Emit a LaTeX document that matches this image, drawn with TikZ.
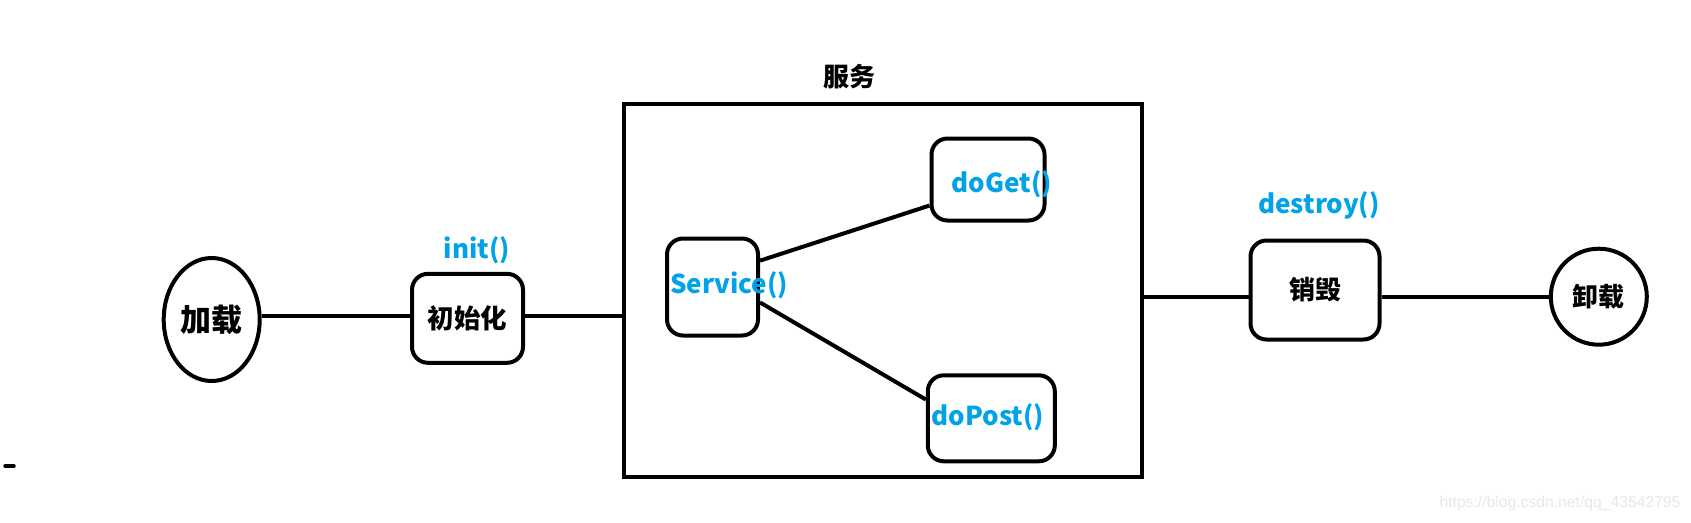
\documentclass[tikz,border=0pt]{standalone}
\usepackage{fontspec}
\newfontfamily\cjk{Noto Sans CJK SC}
\newfontfamily\wmfont{Liberation Sans}
\usetikzlibrary{shapes.geometric,calc}
\definecolor{paintblue}{RGB}{0,162,232}
\definecolor{wmgray}{RGB}{232,232,232}
\begin{document}
\begin{tikzpicture}[x=1pt,y=-1pt,
  conn/.style={line width=4pt},
  rbox/.style={draw,line width=4pt,rounded corners=16pt,inner sep=0pt},
  cjktext/.style={font=\cjk\bfseries\fontsize{26}{26}\selectfont},
  lbl/.style={inner sep=0pt,text=paintblue,font=\cjk\bfseries\fontsize{26}{26}\selectfont},
  ovalnode/.style={draw,line width=4pt,ellipse,inner sep=0pt}
]
\useasboundingbox[fill=white] (0,0) rectangle (1691,522);

% left
\node[ovalnode,minimum width=96,minimum height=123,font=\cjk\bfseries\fontsize{31}{31}\selectfont] (load) at (211.7,319.5) {加载};
\node[rbox,cjktext,minimum width=111,minimum height=89,font=\cjk\bfseries\fontsize{26.5}{26.5}\selectfont] (init) at (467.5,318.3) {初始化};
\node[lbl] (initlbl) at (477,250) {init()};

% service frame
\node[draw,line width=4pt,minimum width=518,minimum height=373,inner sep=0pt] (svcbox) at (882.5,290.3) {};
\node[cjktext,inner sep=0pt] (svctitle) at (849,77) {服务};
\node[rbox,minimum width=91,minimum height=97] (svc) at (712.5,287) {};
\node[lbl] (svctxt) at (729,285) {Service()};
\node[rbox,minimum width=113,minimum height=82] (get) at (988,179.5) {};
\node[lbl] (gettxt) at (1002,184) {doGet()};
\node[rbox,minimum width=127,minimum height=86] (post) at (991.3,418.3) {};
\node[lbl] (posttxt) at (988,417) {doPost()};

% right
\node[rbox,cjktext,minimum width=129,minimum height=99] (dest) at (1315,290) {销毁};
\node[lbl] (destlbl) at (1319,205) {destroy()};
\node[draw,circle,line width=4pt,minimum size=96,inner sep=0pt,cjktext] (unload) at (1598.8,296.7) {卸载};

% connectors
\coordinate (loadout) at ($(load.east)+(0,-4)$);
\draw[conn] (loadout) -- (loadout -| init.west);
\coordinate (initout) at ($(init.east)+(0,-2)$);
\draw[conn] (initout) -- (initout -| svcbox.west);
\coordinate (destin) at ($(dest.west)+(0,7)$);
\draw[conn] (destin) -- (destin -| svcbox.east);
\draw[conn] (dest.east |- unload.west) -- (unload.west);
\draw[conn] (svc.29) -- (get.204);
\draw[conn] (svc.-18) -- (post.164);

% stray mark
\coordinate (d1) at (5,466);
\coordinate (d2) at (14,466);
\draw[line width=3.5pt,line cap=round] (d1) -- (d2);

% watermark
\node[text=wmgray,font=\wmfont\fontsize{15.7}{15.7}\selectfont,inner sep=0pt] (wm) at (1560,503) {https://blog.csdn.net/qq\_43542795};
\end{tikzpicture}
\end{document}
